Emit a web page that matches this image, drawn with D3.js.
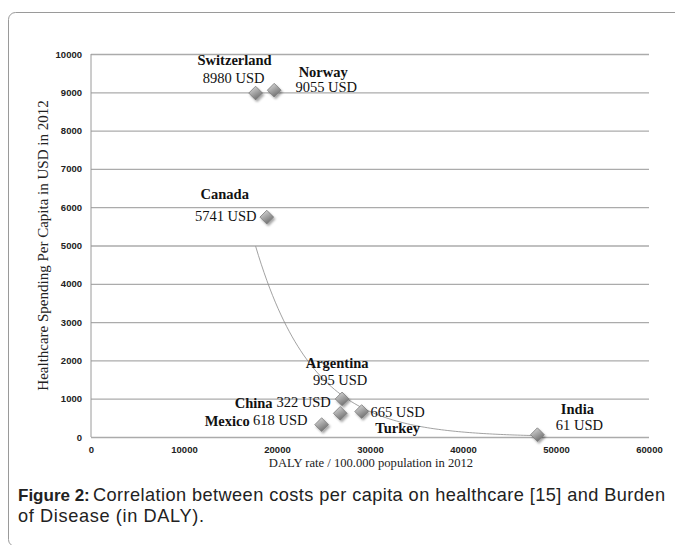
<!DOCTYPE html>
<html>
<head>
<meta charset="utf-8">
<script src="https://cdn.jsdelivr.net/npm/d3@7"></script>
<style>
  html, body { margin: 0; padding: 0; background: #fff; }
  svg { display: block; }
</style>
</head>
<body>
<svg id="chart" width="675" height="545"></svg>
<script>
// ---- data ----
const countries = ["Switzerland", "Norway", "Canada", "Argentina", "Mexico", "Turkey", "China", "India"];
const dalyRate   = [17700, 19700, 18900, 27000, 26800, 29100, 24800, 48000];
const spending   = [8980, 9055, 5741, 995, 618, 665, 322, 61];
const valueLabels = ["8980 USD", "9055 USD", "5741 USD", "995 USD", "618 USD", "665 USD", "322 USD", "61 USD"];
const xTicks = [0, 10000, 20000, 30000, 40000, 50000, 60000];
const yTicks = [0, 1000, 2000, 3000, 4000, 5000, 6000, 7000, 8000, 9000, 10000];

// ---- label layout (pixel offsets from each point) ----
const labelLayout = {
  Switzerland: { name: [-21, -28], value: [-22, -10] },
  Norway:      { name: [49, -13],  value: [52, 2] },
  Canada:      { name: [-42, -18], value: [-41, 4] },
  Argentina:   { name: [-5, -31],  value: [-2, -14] },
  Mexico:      { name: [-113, 13], value: [-60, 12] },
  Turkey:      { name: [36, 21],   value: [36, 5] },
  China:       { name: [-68, -17], value: [-18, -18] },
  India:       { name: [40, -21],  value: [42, -5] }
};

const svg = d3.select("#chart");

// figure frame
svg.append("rect")
  .attr("x", 8.5).attr("y", 12.5)
  .attr("width", 720).attr("height", 534)
  .attr("rx", 7).attr("ry", 7)
  .attr("fill", "none").attr("stroke", "#9a9a9a").attr("stroke-width", 1);

const x = d3.scaleLinear().domain([0, 60000]).range([91, 649]);
const y = d3.scaleLinear().domain([0, 10000]).range([437, 54]);

// defs: gradient + shadow
const defs = svg.append("defs");
const grad = defs.append("linearGradient").attr("id", "dg")
  .attr("x1", "0").attr("y1", "0").attr("x2", "0.6").attr("y2", "1");
grad.append("stop").attr("offset", "0%").attr("stop-color", "#e6e6e6");
grad.append("stop").attr("offset", "50%").attr("stop-color", "#a9a9a9");
grad.append("stop").attr("offset", "100%").attr("stop-color", "#6e6e6e");
const filt = defs.append("filter").attr("id", "sh").attr("x", "-50%").attr("y", "-50%").attr("width", "200%").attr("height", "200%");
filt.append("feDropShadow").attr("dx", 1.5).attr("dy", 2).attr("stdDeviation", 1.2)
  .attr("flood-color", "#000").attr("flood-opacity", 0.35);

// gridlines
const grid = svg.append("g")
  .attr("transform", `translate(${x(0)},0)`)
  .call(d3.axisLeft(y).tickValues(yTicks).tickSize(-(x(60000) - x(0))).tickFormat(""));
grid.select(".domain").remove();
grid.selectAll(".tick line").attr("stroke", "#ababab").attr("stroke-width", 1.3);

// y axis line
svg.append("line")
  .attr("x1", x(0)).attr("x2", x(0)).attr("y1", y(10000)).attr("y2", y(0))
  .attr("stroke", "#9a9a9a").attr("stroke-width", 1);

const tickFont = "'Liberation Sans', Arial, sans-serif";

// y tick labels
const yAxis = svg.append("g")
  .attr("transform", `translate(${x(0) - 9},0)`)
  .call(d3.axisLeft(y).tickValues(yTicks).tickSize(0).tickPadding(0).tickFormat(d3.format("d")));
yAxis.select(".domain").remove();
yAxis.selectAll("text")
  .attr("font-family", tickFont)
  .attr("font-size", 9.5).attr("font-weight", "bold").attr("fill", "#222");

// x tick labels
const xAxis = svg.append("g")
  .attr("transform", `translate(0,${y(0) + 9})`)
  .call(d3.axisBottom(x).tickValues(xTicks).tickSize(0).tickPadding(0).tickFormat(d3.format("d")));
xAxis.select(".domain").remove();
xAxis.selectAll("text")
  .attr("font-family", tickFont)
  .attr("font-size", 9.5).attr("font-weight", "bold").attr("fill", "#222");

// axis titles
svg.append("text")
  .attr("transform", `translate(48,${(y(0) + y(10000)) / 2}) rotate(-90)`)
  .attr("text-anchor", "middle")
  .attr("font-family", "'Liberation Serif', 'Times New Roman', serif")
  .attr("font-size", 15).attr("fill", "#222")
  .text("Healthcare Spending Per Capita in USD in 2012");

svg.append("text")
  .attr("x", 371).attr("y", 467)
  .attr("text-anchor", "middle")
  .attr("font-family", "'Liberation Serif', 'Times New Roman', serif")
  .attr("font-size", 12.6).attr("fill", "#222")
  .text("DALY rate / 100.000 population in 2012");

// exponential trendline fitted to the data (least squares on ln y)
const n = dalyRate.length;
const lny = spending.map(v => Math.log(v));
const mx = d3.mean(dalyRate), my = d3.mean(lny);
let sxy = 0, sxx = 0;
for (let i = 0; i < n; i++) { sxy += (dalyRate[i] - mx) * (lny[i] - my); sxx += (dalyRate[i] - mx) ** 2; }
const b = sxy / sxx, a = Math.exp(my - b * mx);
const [xmin, xmax] = d3.extent(dalyRate);
const trend = d3.range(0, 101).map(k => {
  const xv = xmin + (xmax - xmin) * k / 100;
  return [xv, a * Math.exp(b * xv)];
});
svg.append("path")
  .datum(trend)
  .attr("d", d3.line().x(d => x(d[0])).y(d => y(d[1])))
  .attr("fill", "none").attr("stroke", "#8a8a8a").attr("stroke-width", 0.8);

// points
const pts = countries.map((c, i) => ({ c, xv: dalyRate[i], yv: spending[i], lab: valueLabels[i] }));
const diamond = d3.symbol().type(d3.symbolDiamond2).size(120);
svg.append("g").selectAll("path")
  .data(pts).join("path")
  .attr("d", diamond)
  .attr("transform", d => `translate(${x(d.xv)},${y(d.yv)})`)
  .attr("fill", "url(#dg)").attr("stroke", "#7a7a7a").attr("stroke-width", 0.8)
  .attr("filter", "url(#sh)");

// labels
const lg = svg.append("g")
  .attr("font-family", "'Liberation Serif', 'Times New Roman', serif")
  .attr("font-size", 14.5).attr("fill", "#111").attr("text-anchor", "middle");
pts.forEach(d => {
  const L = labelLayout[d.c];
  lg.append("text")
    .attr("x", x(d.xv) + L.name[0]).attr("y", y(d.yv) + L.name[1])
    .attr("font-weight", "bold")
    .text(d.c);
  lg.append("text")
    .attr("x", x(d.xv) + L.value[0]).attr("y", y(d.yv) + L.value[1])
    .text(d.lab);
});

// caption
const capFont = "'Liberation Sans', Arial, sans-serif";
svg.append("text")
  .attr("x", 18).attr("y", 501)
  .attr("font-family", capFont).attr("font-size", 17).attr("font-weight", "bold").attr("fill", "#222")
  .text("Figure 2:");
svg.append("text")
  .attr("x", 93).attr("y", 501)
  .attr("font-family", capFont).attr("font-size", 18.2).attr("fill", "#222")
  .attr("textLength", 572).attr("lengthAdjust", "spacing")
  .text("Correlation between costs per capita on healthcare [15] and Burden");
svg.append("text")
  .attr("x", 18).attr("y", 522)
  .attr("font-family", capFont).attr("font-size", 18.2).attr("fill", "#222")
  .attr("textLength", 186).attr("lengthAdjust", "spacing")
  .text("of Disease (in DALY).");
</script>
</body>
</html>
